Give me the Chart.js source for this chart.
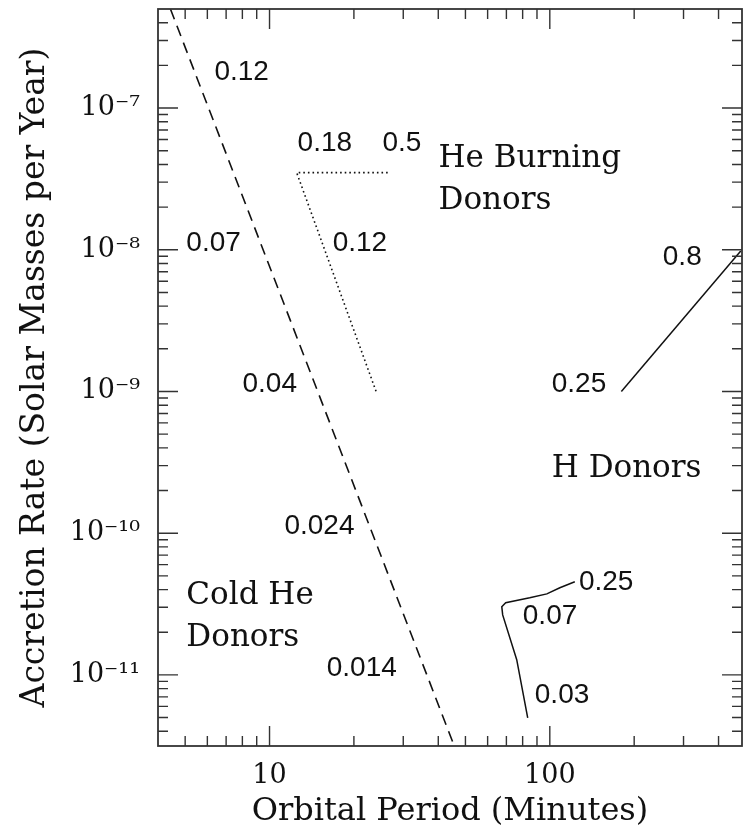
<!DOCTYPE html>
<html>
<head>
<meta charset="utf-8">
<script src="https://cdn.jsdelivr.net/npm/chart.js@4.4.1/dist/chart.umd.min.js"></script>
<style>
  html, body { margin: 0; padding: 0; background: #fff; }
</style>
</head>
<body>
<canvas id="myChart" width="745" height="836"></canvas>
<script>
// axis ticks
const xTickValues = [10, 100]
const xTickLabels = ['10', '100']
const yTickValues = [1e-11, 1e-10, 1e-9, 1e-8, 1e-7]
const yTickLabels = ['10⁻¹¹', '10⁻¹⁰', '10⁻⁹', '10⁻⁸', '10⁻⁷']

// cold He donor boundary (dashed)
const coldHePeriod = [4.43, 45.6]
const coldHeRate = [5e-7, 3.15e-12]

// He burning donor track (dotted)
const heBurnPeriod = [26.4, 12.5, 24.0]
const heBurnRate = [3.5e-8, 3.5e-8, 1.0e-9]

// H donor track (solid, upper right)
const hDonorPeriod = [180, 480]
const hDonorRate = [1.0e-9, 9.8e-9]

// track near the bottom (solid)
const lowPeriod = [83.4, 76.2, 67.9, 67.4, 69.6, 84.8, 97.6, 108.6, 122.8]
const lowRate = [4.97e-12, 1.28e-11, 2.65e-11, 3.03e-11, 3.23e-11, 3.50e-11, 3.73e-11, 4.12e-11, 4.54e-11]

// text in the plot: [text, period, rate, kind]
const notes = [
    ['0.12', 6.36, 1.80e-7, 'num'],
    ['0.18', 12.59, 5.66e-8, 'num'],
    ['0.5', 25.3, 5.66e-8, 'num'],
    ['He Burning', 40.1, 4.36e-8, 'word'],
    ['Donors', 40.1, 2.20e-8, 'word'],
    ['0.07', 5.05, 1.11e-8, 'num'],
    ['0.12', 16.8, 1.11e-8, 'num'],
    ['0.8', 253, 8.85e-9, 'num'],
    ['0.04', 8.01, 1.12e-9, 'num'],
    ['0.25', 101.6, 1.12e-9, 'num'],
    ['H Donors', 101.6, 2.86e-10, 'word'],
    ['0.024', 11.3, 1.11e-10, 'num'],
    ['Cold He', 5.05, 3.61e-11, 'word'],
    ['Donors', 5.05, 1.82e-11, 'word'],
    ['0.014', 16.0, 1.12e-11, 'num'],
    ['0.25', 127, 4.47e-11, 'num'],
    ['0.07', 80.1, 2.61e-11, 'num'],
    ['0.03', 88.4, 7.22e-12, 'num']
]

const ink = '#111'
const serif = '"DejaVu Serif", serif'

function pts(xs, ys) {
    return xs.map((x, i) => ({ x: x, y: ys[i] }))
}

function minorTicks(lo, hi) {
    const out = []
    for (let e = Math.floor(Math.log10(lo)); e <= Math.ceil(Math.log10(hi)); e++) {
        for (let m = 2; m <= 9; m++) {
            const v = m * Math.pow(10, e)
            if (v > lo && v < hi) out.push(v)
        }
    }
    return out
}

// inward ticks on all four sides, plus the frame
const frameTicks = {
    id: 'frameTicks',
    afterDraw(chart) {
        const ctx = chart.ctx
        const a = chart.chartArea
        const xs = chart.scales.x
        const ys = chart.scales.y
        ctx.save()
        ctx.strokeStyle = '#333'
        ctx.lineWidth = 1.4
        ctx.beginPath()
        const tx = (v, len) => {
            const p = xs.getPixelForValue(v)
            ctx.moveTo(p, a.bottom); ctx.lineTo(p, a.bottom - len)
            ctx.moveTo(p, a.top); ctx.lineTo(p, a.top + len)
        }
        const ty = (v, len) => {
            const p = ys.getPixelForValue(v)
            ctx.moveTo(a.left, p); ctx.lineTo(a.left + len, p)
            ctx.moveTo(a.right, p); ctx.lineTo(a.right - len, p)
        }
        xTickValues.forEach(v => tx(v, 20))
        minorTicks(xs.min, xs.max).forEach(v => tx(v, 10))
        yTickValues.forEach(v => ty(v, 20))
        minorTicks(ys.min, ys.max).forEach(v => ty(v, 10))
        ctx.stroke()
        ctx.lineWidth = 1.8
        ctx.strokeRect(a.left, a.top, a.right - a.left, a.bottom - a.top)
        ctx.restore()
    }
}

const plotNotes = {
    id: 'plotNotes',
    afterDatasetsDraw(chart) {
        const ctx = chart.ctx
        const xs = chart.scales.x
        const ys = chart.scales.y
        ctx.save()
        ctx.fillStyle = ink
        ctx.textAlign = 'left'
        ctx.textBaseline = 'middle'
        notes.forEach(n => {
            ctx.font = n[3] === 'num' ? '28px "Liberation Sans", Arial, sans-serif' : '31px ' + serif
            ctx.fillText(n[0], xs.getPixelForValue(n[1]), ys.getPixelForValue(n[2]))
        })
        ctx.restore()
    }
}

const lineSet = (data, dash, width) => ({
    data: data,
    showLine: true,
    borderColor: ink,
    borderWidth: width,
    borderDash: dash,
    pointRadius: 0,
    fill: false,
    tension: 0
})

new Chart(document.getElementById('myChart'), {
    type: 'scatter',
    data: {
        datasets: [
            lineSet(pts(coldHePeriod, coldHeRate), [11, 7], 1.6),
            lineSet(pts(heBurnPeriod, heBurnRate), [1.6, 3], 1.6),
            lineSet(pts(hDonorPeriod, hDonorRate), [], 1.5),
            lineSet(pts(lowPeriod, lowRate), [], 1.5)
        ]
    },
    options: {
        responsive: false,
        animation: false,
        devicePixelRatio: 1,
        layout: { padding: { top: 9, right: 3, left: 0, bottom: 0 } },
        plugins: { legend: { display: false }, tooltip: { enabled: false } },
        scales: {
            x: {
                type: 'logarithmic',
                min: 4,
                max: 485,
                grid: { display: false, drawTicks: false },
                border: { display: false },
                afterBuildTicks: s => { s.ticks = xTickValues.map(v => ({ value: v })) },
                afterFit: s => { s.height = 90; s.paddingLeft = 0; s.paddingRight = 0 },
                ticks: {
                    autoSkip: false,
                    maxRotation: 0,
                    padding: 14,
                    color: ink,
                    font: { family: serif, size: 27 },
                    callback: (v, i) => xTickLabels[i]
                },
                title: {
                    display: true,
                    text: 'Orbital Period (Minutes)',
                    color: ink,
                    font: { family: serif, size: 32 },
                    padding: { top: 0, bottom: 5 }
                }
            },
            y: {
                type: 'logarithmic',
                min: 3.15e-12,
                max: 5e-7,
                grid: { display: false, drawTicks: false },
                border: { display: false },
                afterBuildTicks: s => { s.ticks = yTickValues.map(v => ({ value: v })) },
                afterFit: s => { s.width = 158; s.paddingTop = 0; s.paddingBottom = 0 },
                ticks: {
                    autoSkip: false,
                    padding: 18,
                    color: ink,
                    font: { family: serif, size: 27 },
                    callback: (v, i) => yTickLabels[i]
                },
                title: {
                    display: true,
                    text: 'Accretion Rate (Solar Masses per Year)',
                    color: ink,
                    font: { family: serif, size: 33 },
                    padding: { top: 16, bottom: 0 }
                }
            }
        }
    },
    plugins: [frameTicks, plotNotes]
})
</script>
</body>
</html>
